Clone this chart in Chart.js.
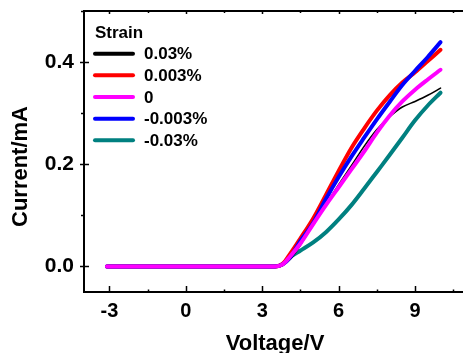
<!DOCTYPE html>
<html>
<head>
<meta charset="utf-8">
<script src="https://cdn.jsdelivr.net/npm/chart.js@4/dist/chart.umd.min.js"></script>
<style>
  html, body { margin: 0; padding: 0; background: #fff; overflow: hidden; }
  canvas { display: block; }
</style>
</head>
<body>
<canvas id="ivChart" width="467" height="353"></canvas>
<script>
// I-V curves under different strain
const voltage = [-3.1, -2, -1, 0, 1, 2, 3, 3.5, 3.8, 4.1, 4.5, 5, 5.5, 6, 6.5, 7, 7.5, 8, 8.5, 9, 9.5, 10];

const strainLabels = ['0.03%', '0.003%', '0', '-0.003%', '-0.03%'];
const current003 = [0, 0, 0, 0, 0, 0, 0, 0, 0.003, 0.014, 0.042, 0.083, 0.122, 0.16, 0.197, 0.235, 0.268, 0.293, 0.312, 0.323, 0.335, 0.349];
const current0003 = [0, 0, 0, 0, 0, 0, 0, 0, 0.005, 0.025, 0.055, 0.094, 0.14, 0.187, 0.232, 0.27, 0.305, 0.335, 0.36, 0.38, 0.402, 0.424];
const currentZero = [0, 0, 0, 0, 0, 0, 0, 0, 0.004, 0.02, 0.045, 0.083, 0.12, 0.155, 0.19, 0.225, 0.262, 0.295, 0.323, 0.346, 0.366, 0.385];
const currentNeg0003 = [0, 0, 0, 0, 0, 0, 0, 0, 0.004, 0.018, 0.05, 0.085, 0.132, 0.175, 0.215, 0.252, 0.288, 0.322, 0.355, 0.383, 0.41, 0.439];
const currentNeg003 = [0, 0, 0, 0, 0, 0, 0, 0, 0.004, 0.018, 0.031, 0.047, 0.067, 0.092, 0.12, 0.152, 0.185, 0.218, 0.252, 0.286, 0.315, 0.34];

const xTicks = [-3, 0, 3, 6, 9];
const yTicks = [0, 0.2, 0.4];

const FONT = "'Liberation Sans', Arial, sans-serif";

function toPoints(ys) {
    return voltage.map((v, i) => ({ x: v, y: ys[i] }));
}

function makeSet(label, ys, color, width, order) {
    return {
        label: label,
        data: toPoints(ys),
        borderColor: color,
        backgroundColor: color,
        borderWidth: width,
        pointRadius: 0,
        cubicInterpolationMode: 'monotone',
        borderCapStyle: 'round',
        borderJoinStyle: 'round',
        fill: false,
        order: order
    };
}

// axis frame, tick marks, y title and the legend box
const decorPlugin = {
    id: 'decor',
    afterDraw(chart) {
        const ctx = chart.ctx;
        const area = chart.chartArea;
        const xs = chart.scales.x;
        const ys = chart.scales.y;

        ctx.save();
        ctx.strokeStyle = '#000';
        ctx.lineWidth = 2;
        ctx.beginPath();
        ctx.moveTo(area.left - 1, area.top);
        ctx.lineTo(chart.width, area.top);
        ctx.stroke();

        // x ticks: major inward from bottom, small ones on top
        ctx.lineWidth = 1.5;
        xTicks.forEach(v => {
            const px = Math.round(xs.getPixelForValue(v)) + 0.5;
            ctx.beginPath();
            ctx.moveTo(px, area.bottom);
            ctx.lineTo(px, area.bottom - 6);
            ctx.moveTo(px, area.top);
            ctx.lineTo(px, area.top + 3);
            ctx.stroke();
            const mid = Math.round(xs.getPixelForValue(v + 1.5)) + 0.5;
            ctx.beginPath();
            ctx.moveTo(mid, area.bottom);
            ctx.lineTo(mid, area.bottom - 2.5);
            ctx.moveTo(mid, area.top);
            ctx.lineTo(mid, area.top + 2);
            ctx.stroke();
        });

        // y ticks
        yTicks.forEach(v => {
            const py = Math.round(ys.getPixelForValue(v)) + 0.5;
            ctx.beginPath();
            ctx.moveTo(area.left - 4, py);
            ctx.lineTo(area.left + 5, py);
            ctx.stroke();
            const mid = Math.round(ys.getPixelForValue(v + 0.1)) + 0.5;
            ctx.beginPath();
            ctx.moveTo(area.left - 3, mid);
            ctx.lineTo(area.left, mid);
            ctx.stroke();
        });

        // y axis title
        ctx.fillStyle = '#000';
        ctx.font = 'bold 22px ' + FONT;
        ctx.textAlign = 'center';
        ctx.textBaseline = 'middle';
        ctx.translate(20.5, 166.5);
        ctx.rotate(-Math.PI / 2);
        ctx.fillText('Current/mA', 0, 0);
        ctx.restore();

        // legend
        ctx.save();
        ctx.fillStyle = '#000';
        ctx.font = 'bold 17px ' + FONT;
        ctx.textAlign = 'left';
        ctx.textBaseline = 'alphabetic';
        ctx.fillText('Strain', 95, 37.5);
        ctx.textBaseline = 'middle';
        chart.data.datasets.forEach((ds, i) => {
            const rowY = 53.7 + i * 21.65;
            ctx.strokeStyle = ds.borderColor;
            ctx.lineWidth = 4;
            ctx.lineCap = 'round';
            ctx.beginPath();
            ctx.moveTo(95, rowY);
            ctx.lineTo(133, rowY);
            ctx.stroke();
            ctx.fillText(ds.label, 144, rowY + 1);
        });
        ctx.restore();
    }
};

const ctx = document.getElementById('ivChart').getContext('2d');
const ivChart = new Chart(ctx, {
    type: 'line',
    data: {
        datasets: [
            makeSet(strainLabels[0], current003, '#000000', 1.6, 3),
            makeSet(strainLabels[1], current0003, '#ff0000', 4, 2),
            makeSet(strainLabels[2], currentZero, '#ff00ff', 4, 0),
            makeSet(strainLabels[3], currentNeg0003, '#0000ff', 4, 1),
            makeSet(strainLabels[4], currentNeg003, '#008080', 4, 4)
        ]
    },
    options: {
        responsive: false,
        animation: false,
        layout: { padding: { top: 11, right: 1, left: 0, bottom: 0 } },
        plugins: {
            legend: { display: false },
            tooltip: { enabled: false }
        },
        scales: {
            x: {
                type: 'linear',
                min: -4,
                max: 11,
                grid: { display: false, drawTicks: false },
                border: { display: true, color: '#000', width: 2 },
                afterBuildTicks: scale => { scale.ticks = xTicks.map(v => ({ value: v })); },
                afterFit: scale => {
                    scale.height = 61;
                    scale.paddingLeft = 0;
                    scale.paddingRight = 0;
                },
                ticks: {
                    color: '#000',
                    padding: 7,
                    maxRotation: 0,
                    font: { family: FONT, size: 20, weight: 'bold' },
                    callback: v => String(v)
                },
                title: {
                    display: true,
                    text: 'Voltage/V',
                    color: '#000',
                    padding: { top: 0, bottom: -2 },
                    font: { family: FONT, size: 22, weight: 'bold', lineHeight: 1 }
                }
            },
            y: {
                type: 'linear',
                min: -0.05,
                max: 0.5,
                grid: { display: false, drawTicks: false },
                border: { display: true, color: '#000', width: 2 },
                afterBuildTicks: scale => { scale.ticks = yTicks.map(v => ({ value: v })); },
                afterFit: scale => {
                    scale.width = 84;
                    scale.paddingTop = 0;
                    scale.paddingBottom = 0;
                },
                ticks: {
                    color: '#000',
                    padding: 10,
                    font: { family: FONT, size: 21, weight: 'bold' },
                    callback: v => v.toFixed(1)
                }
            }
        }
    },
    plugins: [decorPlugin]
});
</script>
</body>
</html>
